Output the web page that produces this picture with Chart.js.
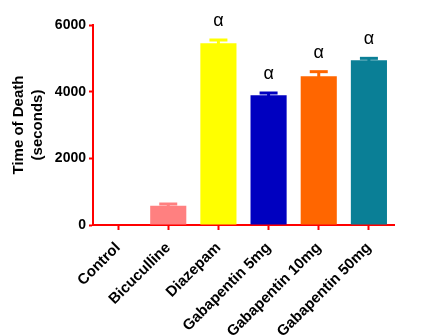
<!DOCTYPE html>
<html>
<head>
<meta charset="utf-8">
<script src="https://cdn.jsdelivr.net/npm/chart.js@4.4.1/dist/chart.umd.min.js"></script>
<style>
  html, body { margin: 0; padding: 0; background: #fff; }
  #wrap { width: 422px; height: 335px; position: relative; }
</style>
</head>
<body>
<div id="wrap"><canvas id="deathChart"></canvas></div>
<script>
// groups and measured time of death (mean + SEM, seconds)
const groups = ['Control', 'Bicuculline', 'Diazepam', 'Gabapentin 5mg', 'Gabapentin 10mg', 'Gabapentin 50mg'];
const meanTime = [0, 580, 5450, 3890, 4460, 4940];
const semTime = [0, 50, 100, 70, 140, 60];
const marks = ['', '', 'α', 'α', 'α', 'α'];
const yTicks = [0, 2000, 4000, 6000];

const barColors = ['#FF8080', '#FF8080', '#FFFF00', '#0000C0', '#FF6600', '#0A7F96'];
const axisRed = '#FF0000';
const fontFamily = 'Arial, "Liberation Sans", Helvetica, sans-serif';

// upward error bars with caps, plus the significance symbol above each bar
const errorBarPlugin = {
    id: 'errorBars',
    afterDatasetsDraw(chart) {
        const ctx = chart.ctx;
        const meta = chart.getDatasetMeta(0);
        const y = chart.scales.y;
        ctx.save();
        meta.data.forEach((bar, i) => {
            if (!meanTime[i]) return;
            const top = y.getPixelForValue(meanTime[i] + semTime[i]);
            const base = y.getPixelForValue(meanTime[i]);
            ctx.strokeStyle = barColors[i];
            ctx.lineWidth = 3;
            ctx.beginPath();
            ctx.moveTo(bar.x, base + 1);
            ctx.lineTo(bar.x, top);
            ctx.stroke();
            ctx.beginPath();
            ctx.moveTo(bar.x - 9, top);
            ctx.lineTo(bar.x + 9, top);
            ctx.stroke();
            if (marks[i]) {
                ctx.fillStyle = '#000';
                ctx.font = '18px ' + fontFamily;
                ctx.textAlign = 'center';
                ctx.textBaseline = 'middle';
                ctx.fillText(marks[i], bar.x, top - 19);
            }
        });
        ctx.restore();
    }
};

new Chart(document.getElementById('deathChart'), {
    type: 'bar',
    data: {
        labels: groups,
        datasets: [{
            data: meanTime,
            backgroundColor: barColors,
            borderWidth: 0,
            categoryPercentage: 1,
            barPercentage: 0.72
        }]
    },
    options: {
        responsive: true,
        maintainAspectRatio: false,
        animation: false,
        layout: { padding: { top: 25, right: 28, left: 0, bottom: 0 } },
        plugins: {
            legend: { display: false },
            tooltip: { enabled: false }
        },
        scales: {
            x: {
                border: { color: axisRed, width: 2 },
                grid: {
                    offset: false,
                    drawOnChartArea: false,
                    drawTicks: true,
                    tickLength: 5,
                    tickWidth: 2,
                    color: axisRed
                },
                ticks: {
                    color: '#000',
                    maxRotation: 45,
                    minRotation: 45,
                    padding: 9,
                    font: { family: fontFamily, size: 15, weight: 'bold' }
                },
                afterFit(scale) { scale.height = 110; }
            },
            y: {
                min: 0,
                max: 6000,
                border: { color: axisRed, width: 2 },
                grid: {
                    drawOnChartArea: false,
                    drawTicks: true,
                    tickLength: 4,
                    tickWidth: 2,
                    color: axisRed
                },
                afterBuildTicks(scale) {
                    scale.ticks = yTicks.map(v => ({ value: v }));
                },
                ticks: {
                    color: '#000',
                    padding: 3,
                    callback: (v) => String(v),
                    font: { family: fontFamily, size: 14, weight: 'bold' }
                },
                title: {
                    display: true,
                    text: ['Time of Death', '(seconds)'],
                    color: '#000',
                    padding: { top: 9, bottom: 4 },
                    font: { family: fontFamily, size: 15, weight: 'bold', lineHeight: 1.3 }
                },
                afterFit(scale) { scale.width = 93; }
            }
        }
    },
    plugins: [errorBarPlugin]
});
</script>
</body>
</html>
